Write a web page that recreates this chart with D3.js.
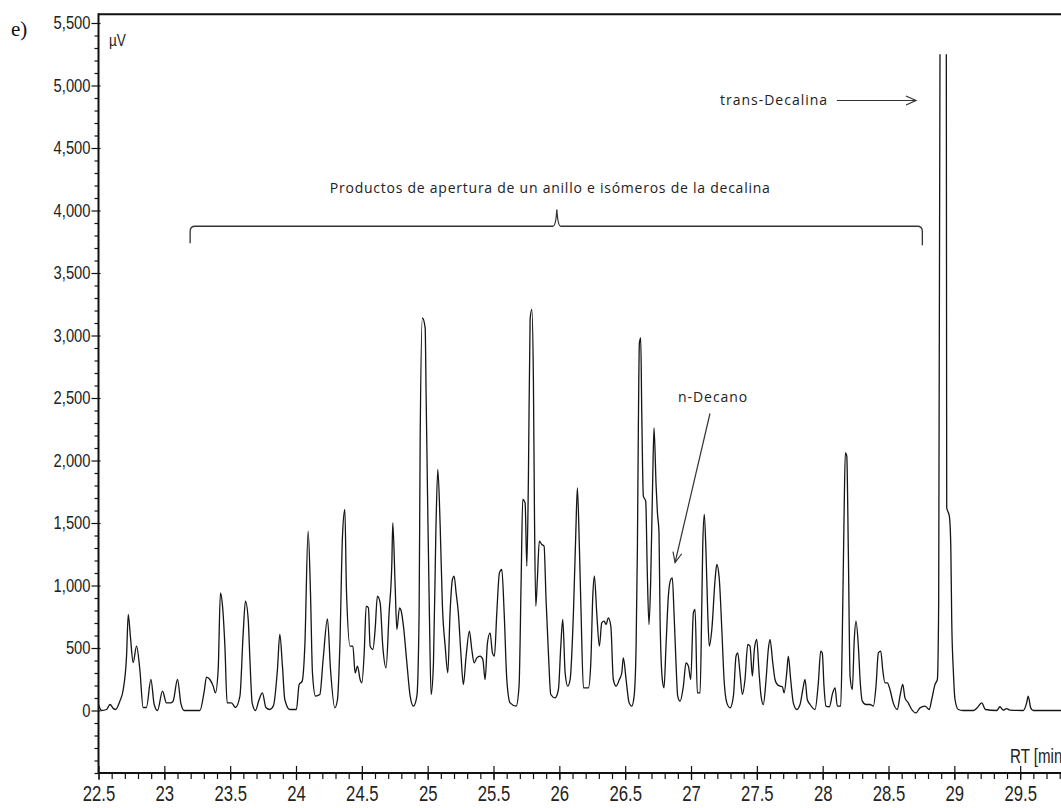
<!DOCTYPE html>
<html>
<head>
<meta charset="utf-8">
<script src="https://cdn.jsdelivr.net/npm/d3@7"></script>
<style>
  body { margin: 0; background: #fff; }
  svg { display: block; }
  .axis text { font-family: "Liberation Sans", Arial, sans-serif; fill: #222; }
  .axis line { stroke: #111; }
  .note { font-family: "Open Sans", "Noto Sans", sans-serif; fill: #222; }
</style>
</head>
<body>
<svg id="chart" width="1061" height="808"></svg>
<script>
// Retention time (min) and detector signal (µV); null marks the off-scale apex of trans-decalin
const retentionTime = [
  22.500,22.523,22.561,22.587,22.614,22.629,22.662,22.688,22.713,22.726,
  22.743,22.763,22.789,22.814,22.839,22.864,22.898,22.923,22.948,22.986,
  23.016,23.050,23.067,23.100,23.126,23.151,23.270,23.303,23.320,23.346,
  23.371,23.388,23.409,23.426,23.442,23.460,23.477,23.510,23.540,23.574,
  23.599,23.616,23.637,23.650,23.667,23.692,23.720,23.745,23.771,23.801,
  23.829,23.859,23.877,23.897,23.915,23.953,24.003,24.024,24.047,24.067,
  24.092,24.110,24.125,24.148,24.181,24.206,24.239,24.262,24.295,24.315,
  24.333,24.353,24.371,24.383,24.411,24.432,24.449,24.467,24.487,24.500,
  24.518,24.533,24.550,24.563,24.584,24.601,24.618,24.639,24.659,24.684,
  24.707,24.728,24.735,24.753,24.766,24.786,24.798,24.816,24.842,24.867,
  24.892,24.918,24.935,24.943,24.960,24.981,24.988,25.001,25.013,25.026,
  25.044,25.062,25.077,25.095,25.112,25.133,25.153,25.170,25.188,25.201,
  25.216,25.233,25.252,25.271,25.292,25.317,25.335,25.353,25.373,25.398,
  25.419,25.436,25.454,25.474,25.492,25.507,25.525,25.545,25.563,25.581,
  25.601,25.626,25.672,25.694,25.710,25.722,25.740,25.753,25.765,25.778,
  25.791,25.803,25.811,25.821,25.833,25.848,25.867,25.884,25.899,25.917,
  25.935,25.968,25.993,26.011,26.026,26.044,26.064,26.082,26.107,26.125,
  26.137,26.152,26.165,26.183,26.221,26.239,26.254,26.266,26.284,26.304,
  26.322,26.340,26.355,26.372,26.391,26.410,26.431,26.456,26.474,26.486,
  26.507,26.530,26.550,26.568,26.583,26.593,26.600,26.608,26.618,26.626,
  26.638,26.656,26.668,26.681,26.694,26.709,26.719,26.735,26.745,26.757,
  26.765,26.782,26.795,26.810,26.828,26.846,26.858,26.871,26.886,26.899,
  26.917,26.942,26.962,26.980,26.998,27.018,27.031,27.048,27.069,27.081,
  27.089,27.101,27.114,27.127,27.139,27.158,27.183,27.196,27.215,27.234,
  27.251,27.272,27.297,27.322,27.342,27.355,27.372,27.390,27.410,27.431,
  27.448,27.466,27.481,27.499,27.517,27.532,27.549,27.570,27.587,27.600,
  27.621,27.638,27.656,27.676,27.694,27.707,27.727,27.739,27.757,27.777,
  27.803,27.828,27.849,27.866,27.883,27.904,27.942,27.967,27.985,27.997,
  28.010,28.025,28.051,28.076,28.094,28.111,28.137,28.149,28.162,28.172,
  28.183,28.195,28.208,28.225,28.240,28.253,28.271,28.284,28.301,28.329,
  28.360,28.385,28.405,28.423,28.441,28.456,28.473,28.491,28.511,28.536,
  28.567,28.587,28.608,28.625,28.650,28.676,28.709,28.739,28.777,28.810,
  28.828,28.853,28.871,28.881,28.891,28.915,28.939,28.942,28.962,28.973,
  28.980,28.993,29.005,29.030,29.066,29.144,29.172,29.208,29.236,29.322,
  29.346,29.371,29.397,29.422,29.524,29.549,29.561,29.580,29.599,29.810
];
const signal = [
  48,0,8,48,15,8,75,168,435,768,
  583,384,515,328,24,24,248,48,0,155,
  61,61,75,248,55,0,0,155,267,248,
  195,141,328,941,835,515,61,61,24,115,
  621,875,728,408,61,0,88,141,24,8,
  40,328,608,355,88,8,8,208,235,515,
  1435,941,301,115,128,408,733,328,21,88,
  515,1395,1608,968,515,515,301,355,248,221,
  461,835,821,515,488,648,915,861,515,341,
  781,1181,1501,995,648,821,800,675,381,115,
  35,115,781,2168,3140,3061,2541,1581,781,128,
  381,1421,1928,1475,835,515,301,781,1048,1075,
  941,781,461,208,435,635,488,381,421,435,
  408,248,541,621,461,435,781,1101,1128,781,
  248,61,35,195,1048,1688,1661,1155,1848,3128,
  3208,2648,1581,835,1048,1355,1328,1315,888,461,
  128,101,168,515,728,301,195,248,781,1421,
  1781,1315,781,181,181,381,915,1075,781,515,
  701,715,688,741,675,248,195,248,300,421,
  248,61,35,115,515,1315,2248,2941,2981,2381,
  1715,1675,1101,688,1048,1848,2261,1795,1581,1421,
  728,248,181,515,915,1048,1061,781,381,115,
  75,195,381,355,248,781,808,141,141,781,
  1315,1568,1261,781,515,648,1048,1168,1048,648,
  248,61,21,115,435,461,301,128,248,528,
  515,275,488,568,301,115,48,248,488,568,
  381,248,208,195,190,141,301,435,248,61,
  8,48,168,248,88,48,8,221,475,460,
  195,35,30,141,181,35,35,595,1528,2061,
  2035,1261,275,168,568,715,515,248,75,48,
  48,35,195,461,475,328,221,221,168,61,
  8,115,208,101,61,8,-19,21,35,8,
  88,208,248,861,5250,null,5250,1624,1555,1315,
  728,301,88,8,0,0,20,61,8,0,
  30,3,15,3,0,61,115,21,0,0
];

// Axis ticks
const xTickValues = [22.5, 23, 23.5, 24, 24.5, 25, 25.5, 26, 26.5, 27, 27.5, 28, 28.5, 29, 29.5];
const yTickValues = [0, 500, 1000, 1500, 2000, 2500, 3000, 3500, 4000, 4500, 5000, 5500];
const xMinorStep = 0.1;
const yMinorStep = 100;

// Annotations (retention time / signal positions)
const bracketLabel = "Productos de apertura de un anillo e isómeros de la decalina";
const bracketRange = [23.196, 28.757];
const bracketLevel = 3874;
const bracketPeak = [25.981, 4008];
const decaneLabel = "n-Decano";
const decaneLabelPos = [27.164, 2512];
const decaneArrow = [[27.144, 2376], [26.879, 1184]];
const decalinLabel = "trans-Decalina";
const decalinLabelPos = [27.627, 4888];
const decalinArrow = [[28.108, 4880], [28.709, 4880]];

const svg = d3.select("#chart");
const W = 1061, H = 808;
const left = 98.5, bottom = 773, topY = 23, frameTop = 14.3;

const x = d3.scaleLinear().domain([22.5, 29.81]).range([left, W]);
const y = d3.scaleLinear().domain([-500, 5500]).range([bottom, topY]);

// Horizontal condensing for the narrow axis lettering
const yCond = 0.82, xCond = 0.76;

// Frame line along the top
svg.append("line").attr("x1", left).attr("x2", W).attr("y1", frameTop).attr("y2", frameTop)
  .attr("stroke", "#111").attr("stroke-width", 2);

// Y axis: minor then major ticks
const yMinor = d3.range(-500, 5500 + 1, yMinorStep).filter(v => v % 500 !== 0 || v === -500);
svg.append("g").attr("class", "axis").attr("transform", `translate(${left},0)`)
  .call(d3.axisLeft(y).tickValues(yMinor).tickSize(4).tickFormat(""))
  .call(g => g.select(".domain").remove())
  .selectAll("line").attr("stroke-width", 1.2);

svg.append("g").attr("class", "axis").attr("transform", `translate(${left},0)`)
  .call(d3.axisLeft(y).tickValues(yTickValues).tickSize(7).tickPadding(1).tickFormat(d3.format(",")))
  .call(g => g.select(".domain").remove())
  .call(g => g.selectAll("line").attr("x1", 2).attr("stroke-width", 1.2))
  .call(g => g.selectAll("text").attr("font-size", 18)
    .attr("x", -8 / yCond).attr("transform", `scale(${yCond},1)`));

// X axis: minor then major ticks
const xMinor = d3.range(0, 74).map(i => +(22.5 + i * xMinorStep).toFixed(1));
svg.append("g").attr("class", "axis").attr("transform", `translate(0,${bottom})`)
  .call(d3.axisBottom(x).tickValues(xMinor).tickSize(6).tickFormat(""))
  .call(g => g.select(".domain").remove())
  .selectAll("line").attr("stroke-width", 1.2);

svg.append("g").attr("class", "axis").attr("transform", `translate(0,${bottom})`)
  .call(d3.axisBottom(x).tickValues(xTickValues).tickSize(7).tickPadding(5).tickFormat(d => String(d)))
  .call(g => g.select(".domain").remove())
  .call(g => g.selectAll("line").attr("y1", -7).attr("stroke-width", 1.2))
  .call(g => g.selectAll("text").attr("font-size", 22).attr("transform", `scale(${xCond},1)`));

// Axis lines
svg.append("line").attr("x1", left).attr("x2", left).attr("y1", frameTop - 1).attr("y2", bottom + 1)
  .attr("stroke", "#111").attr("stroke-width", 2);
svg.append("line").attr("x1", left).attr("x2", W).attr("y1", bottom).attr("y2", bottom)
  .attr("stroke", "#111").attr("stroke-width", 2);

// Axis titles and panel letter
function condensedText(px, py, size, k, str) {
  return svg.append("text")
    .attr("transform", `translate(${px},${py}) scale(${k},1)`)
    .attr("font-family", "'Liberation Sans',Arial,sans-serif")
    .attr("font-size", size).attr("fill", "#222").text(str);
}
condensedText(109, 46, 17, 0.8, "µV");
condensedText(1010, 763, 21, 0.72, "RT [min]");
svg.append("text").attr("x", 11).attr("y", 36)
  .attr("font-family", "'Liberation Serif','Times New Roman',serif").attr("font-size", 21)
  .attr("fill", "#111").text("e)");

// Chromatogram trace
const points = retentionTime.map((t, i) => [t, signal[i]]);
const line = d3.line()
  .defined(d => d[1] !== null)
  .curve(d3.curveMonotoneX)
  .x(d => x(d[0]))
  .y(d => y(d[1]));
svg.append("path").datum(points)
  .attr("d", line)
  .attr("fill", "none")
  .attr("stroke", "#151515")
  .attr("stroke-width", 1.3)
  .attr("stroke-linejoin", "round");

// Brace over the ring-opening products region
const bx0 = x(bracketRange[0]), bx1 = x(bracketRange[1]), by = y(bracketLevel);
const px = x(bracketPeak[0]), py = y(bracketPeak[1]);
svg.append("path")
  .attr("d", `M${bx0},${by + 17} L${bx0},${by + 5} Q${bx0},${by} ${bx0 + 5},${by}
              L${px - 4},${by} Q${px - 1},${by} ${px},${py} Q${px + 1},${by} ${px + 4},${by}
              L${bx1 - 5},${by} Q${bx1},${by} ${bx1},${by + 5} L${bx1},${by + 19}`)
  .attr("fill", "none").attr("stroke", "#333").attr("stroke-width", 1.3);
svg.append("text").attr("class", "note")
  .attr("font-size", 14)
  .attr("x", px - 227).attr("y", py - 17)
  .attr("textLength", 440).attr("lengthAdjust", "spacing")
  .text(bracketLabel);

// Callout helpers
function note(pos, str, width) {
  const cx = x(pos[0]);
  svg.append("text").attr("class", "note")
    .attr("font-size", 14)
    .attr("x", cx - width / 2).attr("y", y(pos[1]) + 5)
    .attr("textLength", width).attr("lengthAdjust", "spacing")
    .text(str);
}
function arrow(a, b) {
  const x1 = x(a[0]), y1 = y(a[1]), x2 = x(b[0]), y2 = y(b[1]);
  const ang = Math.atan2(y2 - y1, x2 - x1);
  const len = 11, spread = 0.42;
  svg.append("line").attr("x1", x1).attr("y1", y1).attr("x2", x2).attr("y2", y2)
    .attr("stroke", "#333").attr("stroke-width", 1.2);
  const p1 = [x2 - len * Math.cos(ang - spread), y2 - len * Math.sin(ang - spread)];
  const p2 = [x2 - len * Math.cos(ang + spread), y2 - len * Math.sin(ang + spread)];
  svg.append("path").attr("d", `M${p1[0]},${p1[1]} L${x2},${y2} L${p2[0]},${p2[1]}`)
    .attr("fill", "none").attr("stroke", "#333").attr("stroke-width", 1.2);
}

// n-Decane label and arrow
note(decaneLabelPos, decaneLabel, 69);
arrow(decaneArrow[0], decaneArrow[1]);

// trans-Decalin label and arrow
note(decalinLabelPos, decalinLabel, 107);
arrow(decalinArrow[0], decalinArrow[1]);
</script>
</body>
</html>
